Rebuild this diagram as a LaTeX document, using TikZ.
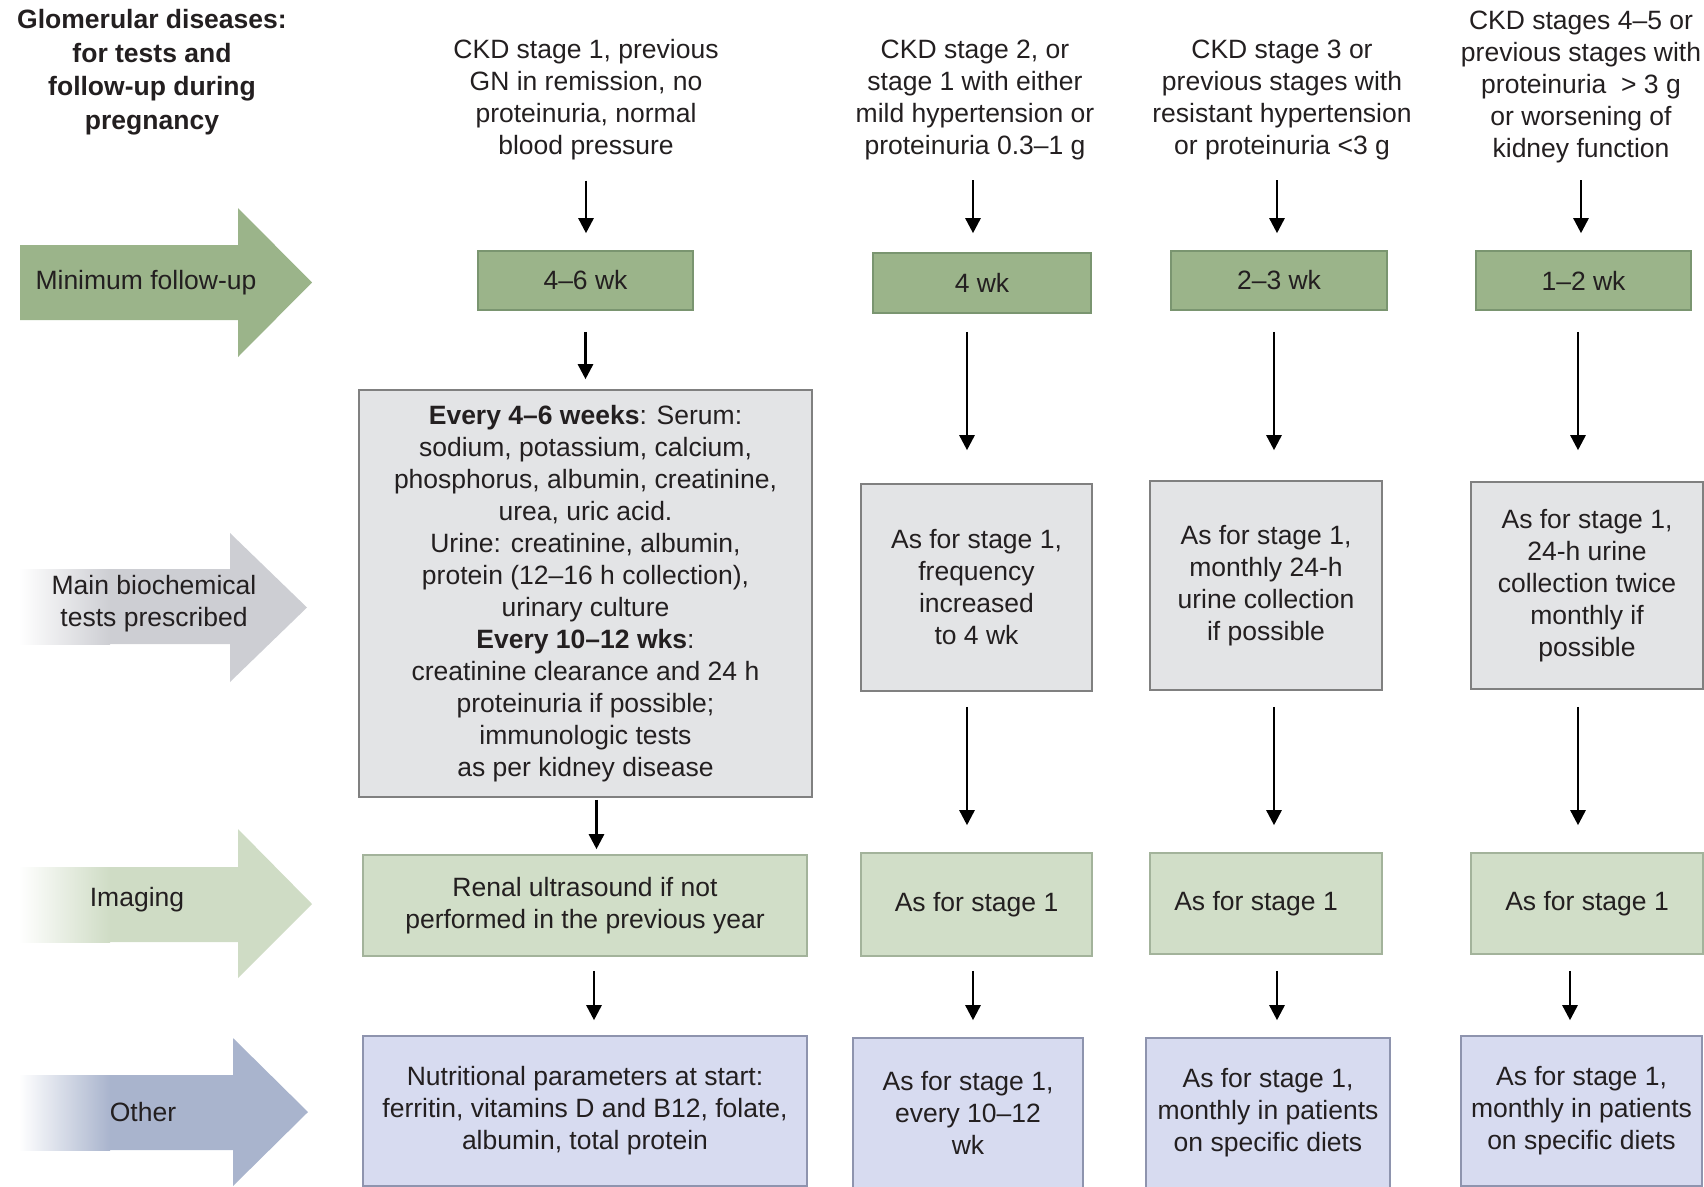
\documentclass[tikz,border=0pt]{standalone}
\usepackage{fontspec}
\setmainfont{Liberation Sans}
\usetikzlibrary{arrows.meta}
\definecolor{inkc}{HTML}{231F20}
\definecolor{dgreen}{HTML}{9BB48A}
\definecolor{dgreenb}{HTML}{7A9570}
\definecolor{greyf}{HTML}{E3E4E6}
\definecolor{greyb}{HTML}{808080}
\definecolor{lgreen}{HTML}{D1DEC8}
\definecolor{lgreenb}{HTML}{A3B39B}
\definecolor{lav}{HTML}{D7DBF0}
\definecolor{lavb}{HTML}{8E94AE}
\definecolor{arrgrey}{HTML}{CDCED3}
\definecolor{arrlgreen}{HTML}{CFDCC5}
\definecolor{arrblue}{HTML}{A9B4CD}
\newcommand\linkarrow[5]{\draw[conn, shorten <=#4pt, shorten >=#5pt] ([xshift=#3pt]#1.south) -- ([xshift=#3pt]#1.south |- #2.north);}
\begin{document}
\begin{tikzpicture}[x=1pt,y=-1pt,
  txt/.style={font=\fontsize{26.5}{32}\selectfont, text=inkc, align=center, inner sep=0pt},
  gbox/.style={txt, draw=dgreenb, fill=dgreen, line width=1.6pt},
  tbox/.style={txt, draw=greyb, fill=greyf, line width=1.6pt},
  ibox/.style={txt, draw=lgreenb, fill=lgreen, line width=1.6pt},
  obox/.style={txt, draw=lavb, fill=lav, line width=1.6pt},
  conn/.style={draw=black, line width=2.6pt, -{Triangle[length=15pt,width=15pt]}}]
\useasboundingbox (0,0) rectangle (1704,1186);

% ---- left-side category arrows ----
\fill[dgreen] (20,245) -- (238,245) -- (238,208) -- (312,282.5) -- (238,357) -- (238,320) -- (20,320) -- cycle;
\fill[arrgrey] (20,569) -- (230,569) -- (230,533) -- (307,607.5) -- (230,682) -- (230,644) -- (20,644) -- cycle;
\shade[left color=white, right color=arrgrey] (19,569) rectangle (110,644);
\fill[arrlgreen] (20,867) -- (238,867) -- (238,829) -- (312,904) -- (238,978) -- (238,942) -- (20,942) -- cycle;
\shade[left color=white, right color=arrlgreen] (19,867) rectangle (110,942);
\fill[arrblue] (20,1075) -- (233,1075) -- (233,1038) -- (308,1112) -- (233,1186) -- (233,1150) -- (20,1150) -- cycle;
\shade[left color=white, right color=arrblue] (19,1075) rectangle (110,1150);

\node[txt] (lmin) at (146,283) {Minimum follow-up};
\node[txt] (lbio) at (154,604) {Main biochemical\\tests prescribed};
\node[txt] (limg) at (137,900) {Imaging};
\node[txt] (loth) at (143,1112) {Other};

\node[txt, font=\fontsize{26.5}{33.5}\selectfont\bfseries] (title) at (152,72)
  {Glomerular diseases:\\for tests and\\follow-up during\\pregnancy};

% ---- column headers ----
\node[txt] (h1) at (586,100) {CKD stage 1, previous\\GN in remission, no\\proteinuria, normal\\blood pressure};
\node[txt] (h2) at (975,100) {CKD stage 2, or\\stage 1 with either\\mild hypertension or\\proteinuria 0.3–1 g};
\node[txt] (h3) at (1282,100) {CKD stage 3 or\\previous stages with\\resistant hypertension\\or proteinuria <3 g};
\node[txt] (h4) at (1581,87) {CKD stages 4–5 or\\previous stages with\\proteinuria \ \textgreater\ 3 g\\or worsening of\\kidney function};

% ---- minimum follow-up boxes ----
\node[gbox, minimum width=215pt, minimum height=59pt] (g1) at (585.5,280.5) {4–6 wk};
\node[gbox, minimum width=218pt, minimum height=60pt] (g2) at (982,283) {4 wk};
\node[gbox, minimum width=216pt, minimum height=59pt] (g3) at (1279,280.5) {2–3 wk};
\node[gbox, minimum width=215pt, minimum height=59pt] (g4) at (1583.5,280.5) {1–2 wk};

% ---- biochemical tests ----
\node[tbox, minimum width=453pt, minimum height=407pt] (t1) at (585.5,593.5)
  {\textbf{Every 4–6 weeks}: Serum:\\sodium, potassium, calcium,\\phosphorus, albumin, creatinine,\\urea, uric acid.\\Urine: creatinine, albumin,\\protein (12–16 h collection),\\urinary culture\\\textbf{Every 10–12 wks}:\\creatinine clearance and 24 h\\proteinuria if possible;\\immunologic tests\\as per kidney disease};
\node[tbox, minimum width=231pt, minimum height=207pt] (t2) at (976.5,587.5)
  {As for stage 1,\\frequency\\increased\\to 4 wk};
\node[tbox, minimum width=232pt, minimum height=209pt] (t3) at (1266,585.5)
  {As for stage 1,\\monthly 24-h\\urine collection\\if possible};
\node[tbox, minimum width=232pt, minimum height=207pt] (t4) at (1587,585.5)
  {As for stage 1,\\24-h urine\\collection twice\\monthly if\\possible};

% ---- imaging ----
\node[ibox, minimum width=444pt, minimum height=101pt] (i1) at (585,905.5)
  {Renal ultrasound if not\\performed in the previous year};
\node[ibox, minimum width=231pt, minimum height=103pt] (i2) at (976.5,904.5) {As for stage 1};
\node[ibox, minimum width=232pt, minimum height=101pt] (i3) at (1266,903.5) {\hspace*{-20pt}As for stage 1};
\node[ibox, minimum width=232pt, minimum height=101pt] (i4) at (1587,903.5) {As for stage 1};

% ---- other ----
\node[obox, minimum width=444pt, minimum height=150pt] (o1) at (585,1111)
  {Nutritional parameters at start:\\ferritin, vitamins D and B12, folate,\\albumin, total protein};
\node[obox, minimum width=230pt, minimum height=150pt] (o2) at (968,1113)
  {As for stage 1,\\every 10–12\\wk};
\node[obox, minimum width=244pt, minimum height=150pt] (o3) at (1268,1113)
  {As for stage 1,\\monthly in patients\\on specific diets};
\node[obox, minimum width=241pt, minimum height=150pt] (o4) at (1581.5,1111)
  {As for stage 1,\\monthly in patients\\on specific diets};

% ---- connectors ----
\linkarrow{h1}{g1}{0}{20}{17}
\linkarrow{g1}{t1}{0}{21}{10}
\linkarrow{t1}{i1}{11}{2}{5}
\linkarrow{i1}{o1}{9}{14}{15}

\linkarrow{h2}{g2}{-2}{20}{19}
\linkarrow{g2}{t2}{-15}{18}{33}
\linkarrow{t2}{i2}{-9.5}{15}{27}
\linkarrow{i2}{o2}{-3.5}{14}{17}

\linkarrow{h3}{g3}{-5}{20}{17}
\linkarrow{g3}{t3}{-5}{21}{30}
\linkarrow{t3}{i3}{8}{16}{27}
\linkarrow{i3}{o3}{11}{16}{17}

\linkarrow{h4}{g4}{0}{17}{17}
\linkarrow{g4}{t4}{-5.5}{21}{31}
\linkarrow{t4}{i4}{-9}{17}{27}
\linkarrow{i4}{o4}{-17}{16}{15}
\end{tikzpicture}
\end{document}
